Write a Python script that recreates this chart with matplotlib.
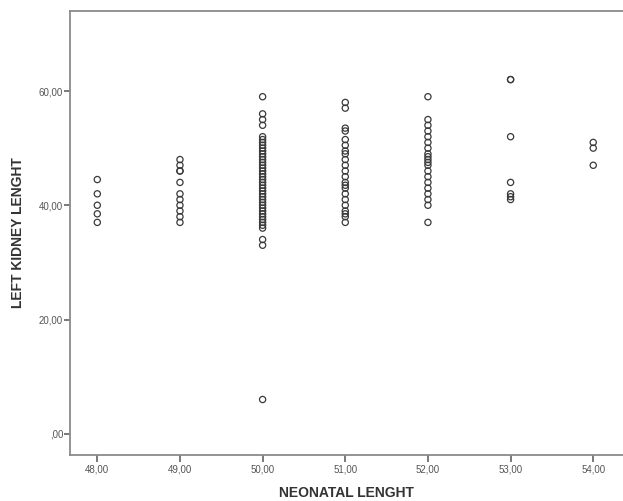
import matplotlib.pyplot as plt
from matplotlib.ticker import FuncFormatter

# Neonatal length groups and left kidney length readings per group
len_48 = [44.5, 42, 40, 38.5, 37]
len_49 = [48, 47, 46, 46, 44, 42, 41, 40, 39, 38, 37]
len_50 = [59, 56, 55, 54, 52, 51.5, 51, 50.5, 50, 49.5, 49, 48.5, 48, 47.5,
          47, 46.5, 46, 45.5, 45, 44.5, 44, 43.5, 43, 42.5, 42, 41.5, 41,
          40.5, 40, 39.5, 39, 38.5, 38, 37.5, 37, 36.5, 36, 34, 33, 6]
len_51 = [58, 57, 53.5, 53, 51.5, 50.5, 49.5, 49, 48, 47, 46, 45, 44, 43.5,
          43, 42, 41, 40, 39, 38.5, 38, 37]
len_52 = [59, 55, 54, 53, 52, 51, 50, 49, 48.5, 48, 47.5, 47, 46, 45, 44,
          43, 42, 41, 40, 37]
len_53 = [62, 62, 52, 44, 42, 41.5, 41]
len_54 = [51, 50, 47]

groups = [48, 49, 50, 51, 52, 53, 54]
kidney = [len_48, len_49, len_50, len_51, len_52, len_53, len_54]

plt.rcParams['font.family'] = ['Liberation Sans', 'DejaVu Sans']

fig = plt.figure(figsize=(6.23, 5.01), dpi=100)
ax = fig.add_axes([0.1124, 0.092, 0.8876, 0.886])

for g, vals in zip(groups, kidney):
    ax.scatter([g] * len(vals), vals, s=20, facecolors='none',
               edgecolors='#3a3a3a', linewidths=0.9, zorder=3)

ax.set_xlim(47.67, 54.36)
ax.set_ylim(-3.7, 74)
ax.set_xticks(groups)
ax.set_yticks([0, 20, 40, 60])

fmt = FuncFormatter(lambda v, p: ',00' if v == 0 else f'{v:.2f}'.replace('.', ','))
ax.xaxis.set_major_formatter(fmt)
ax.yaxis.set_major_formatter(fmt)

for side in ['left', 'bottom', 'top']:
    ax.spines[side].set_color('#8a8a8a')
    ax.spines[side].set_linewidth(1.3)
ax.spines['right'].set_visible(False)

ax.tick_params(axis='y', direction='out', length=4, width=1.1, color='#555555',
               labelsize=7, labelcolor='#555555', pad=1)
ax.tick_params(axis='x', direction='out', length=5, width=1.1, color='#555555',
               labelsize=7, labelcolor='#555555', pad=2)

ax.set_xlabel('NEONATAL LENGHT', fontsize=10, fontweight='bold', color='#333333', labelpad=8)
ax.set_ylabel('LEFT KIDNEY LENGHT', fontsize=10, fontweight='bold', color='#333333', labelpad=10)

plt.savefig('out.png', dpi=100)
plt.close()
